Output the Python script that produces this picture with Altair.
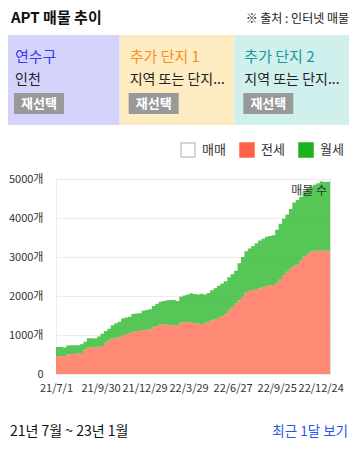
import altair as alt
import pandas as pd

# ---------------- data ----------------
week_start = "2021-07-01"
# 전세 (jeonse) listings, weekly
jeonse = [460, 460, 460, 505, 513, 520, 525, 540, 620, 684,
          690, 680, 700, 720, 800, 860, 910, 930, 945, 1000,
          1020, 1043, 1085, 1100, 1111, 1128, 1135, 1145, 1197, 1230,
          1275, 1270, 1260, 1256, 1250, 1235, 1330, 1330, 1325, 1325,
          1310, 1290, 1282, 1300, 1345, 1370, 1400, 1440, 1480, 1530,
          1640, 1710, 1800, 1890, 1980, 2086, 2137, 2150, 2180, 2197,
          2230, 2265, 2270, 2280, 2330, 2420, 2540, 2620, 2700, 2760,
          2810, 2910, 3020, 3070, 3140, 3160, 3165, 3170, 3160, 3165,
          3160]
# 월세 (monthly rent) listings, weekly
wolse = [230, 230, 220, 225, 222, 220, 210, 220, 210, 231,
         225, 230, 260, 310, 300, 300, 340, 370, 395, 420,
         430, 427, 453, 450, 449, 496, 505, 515, 547, 570,
         580, 600, 630, 641, 650, 635, 650, 680, 715, 745,
         740, 750, 773, 740, 735, 780, 800, 820, 840, 850,
         840, 850, 850, 950, 1020, 1064, 1083, 1130, 1170, 1223,
         1240, 1255, 1270, 1280, 1370, 1430, 1440, 1470, 1530, 1640,
         1650, 1630, 1680, 1690, 1660, 1690, 1725, 1770, 1760, 1765,
         1800]

series_names = ["매매", "전세", "월세"]
series_colors = ["#ffffff", "#ff6347", "#1db31d"]
series_strokes = ["#c4c8d0", "#ff6347", "#1db31d"]

tick_dates = ["2021-07-01", "2021-09-30", "2021-12-29", "2022-03-29",
              "2022-06-27", "2022-09-25", "2022-12-24"]
y_ticks = [0, 1000, 2000, 3000, 4000, 5000]

panels = ["연수구", "추가 단지 1", "추가 단지 2"]
panel_subs = ["인천", "지역 또는 단지...", "지역 또는 단지..."]
panel_bgs = ["#d4d4fa", "#fdecc2", "#d0f0ee"]
panel_fgs = ["#3838ff", "#ff8a1f", "#16999a"]
button_label = "재선택"

title_text = "APT 매물 추이"
source_text = "※ 출처 : 인터넷 매물"
period_text = "21년 7월 ~ 23년 1월"
link_text = "최근 1달 보기"
y_title = "매물 수"

FONT = "Noto Sans CJK KR"

# ---------------- tables ----------------
dates = pd.date_range(week_start, periods=len(jeonse), freq="7D")
rows = []
for d, j, w in zip(dates, jeonse, wolse):
    rows.append({"date": d, "type": "전세", "value": j, "ord": 1})
    rows.append({"date": d, "type": "월세", "value": w, "ord": 2})
df = pd.DataFrame(rows)


def dt(s):
    return alt.DateTime(year=int(s[:4]), month=int(s[5:7]), date=int(s[8:10]))


first = dates[0].strftime("%Y-%m-%d")
last = dates[-1].strftime("%Y-%m-%d")

stroke_expr = " : ".join(
    f"datum.value === '{n}' ? '{c}'" for n, c in zip(series_names[:-1], series_strokes[:-1])
) + f" : '{series_strokes[-1]}'"

area = alt.Chart(df).mark_area(interpolate="step-after", opacity=0.75).encode(
    x=alt.X("date:T",
            scale=alt.Scale(domain=[dt(first), dt(last)], nice=False),
            axis=alt.Axis(values=[dt(s) for s in tick_dates], format="%y/%-m/%-d",
                          labelFontSize=11, labelColor="#333", labelPadding=8,
                          ticks=False, domain=False, grid=False, title=None,
                          labelFlush=False, labelOverlap=False, labelBound=False)),
    y=alt.Y("value:Q", stack="zero",
            scale=alt.Scale(domain=[0, 5000], nice=False),
            axis=alt.Axis(values=y_ticks,
                          labelExpr="datum.value == 0 ? '0' : datum.value + '개'",
                          labelFontSize=11, labelColor="#333", labelPadding=13,
                          ticks=False, grid=True, gridColor="#ececec",
                          domain=True, domainColor="#ececec", title=None)),
    color=alt.Color("type:N",
                    scale=alt.Scale(domain=series_names, range=series_colors),
                    legend=alt.Legend(orient="none", legendX=124, legendY=-37,
                                      direction="horizontal", title=None,
                                      symbolType="square", symbolSize=196,
                                      symbolStrokeWidth=1.5, symbolOpacity=1,
                                      symbolStrokeColor={"expr": stroke_expr},
                                      labelFontSize=13, labelColor="#333",
                                      labelOffset=6, columnPadding=11)),
    order=alt.Order("ord:Q"),
)

# ---------------- header panels ----------------
hdf = pd.DataFrame({"panel": panels, "sub": panel_subs, "bg": panel_bgs,
                    "fg": panel_fgs, "btn": [button_label] * len(panels)})
hx = alt.Scale(domain=panels, range=[-51, 293], paddingInner=0, paddingOuter=0)
half_band = 344 / len(panels) / 2

boxes = alt.Chart(hdf).mark_rect().encode(
    x=alt.X("panel:N", scale=hx, axis=None),
    color=alt.Color("bg:N", scale=None),
    y=alt.value(-144), y2=alt.value(-54),
)
names = alt.Chart(hdf).mark_text(align="left", baseline="middle", fontSize=15,
                                 dx=10 - half_band).encode(
    x=alt.X("panel:N", scale=hx, axis=None),
    y=alt.value(-122),
    text="panel:N",
    color=alt.Color("fg:N", scale=None),
)
subs = alt.Chart(hdf).mark_text(align="left", baseline="middle", fontSize=14,
                                dx=10 - half_band, color="#222").encode(
    x=alt.X("panel:N", scale=hx, axis=None),
    y=alt.value(-99),
    text="sub:N",
)
buttons = alt.Chart(hdf).mark_bar(color="#999999", width=50, xOffset=34 - half_band).encode(
    x=alt.X("panel:N", scale=hx, axis=None),
    y=alt.value(-86), y2=alt.value(-65),
)
btn_text = alt.Chart(hdf).mark_text(align="center", baseline="middle", fontSize=13,
                                    fontWeight="bold", color="white",
                                    dx=34 - half_band).encode(
    x=alt.X("panel:N", scale=hx, axis=None),
    y=alt.value(-75),
    text="btn:N",
)


def label(txt, x, y, **kw):
    return alt.Chart(pd.DataFrame({"t": [txt]})).mark_text(baseline="middle", **kw).encode(
        x=alt.value(x), y=alt.value(y), text="t:N")


title = label(title_text, -45, -161, align="left", fontSize=15, fontWeight="bold", color="#111")
source = label(source_text, 293, -160, align="right", fontSize=12, color="#222")
ytitle = label(y_title, 271, 12, align="right", fontSize=12, color="#333")
period = label(period_text, -46, 253, align="left", fontSize=14, color="#111")
link = label(link_text, 292, 253, align="right", fontSize=13.5, color="#2e55e8")

chart = alt.layer(boxes, names, subs, buttons, btn_text, area, ytitle, title, source, period, link
                  ).resolve_scale(x="independent", color="independent").properties(
    width=274, height=195,
    padding={"left": 48, "top": 171, "right": 21, "bottom": 67},
    autosize=alt.AutoSizeParams(type="none"),
    background="white",
).configure_view(stroke=None).configure(font=FONT)

chart.save("out.html", embed_options={"renderer": "svg", "actions": False})
